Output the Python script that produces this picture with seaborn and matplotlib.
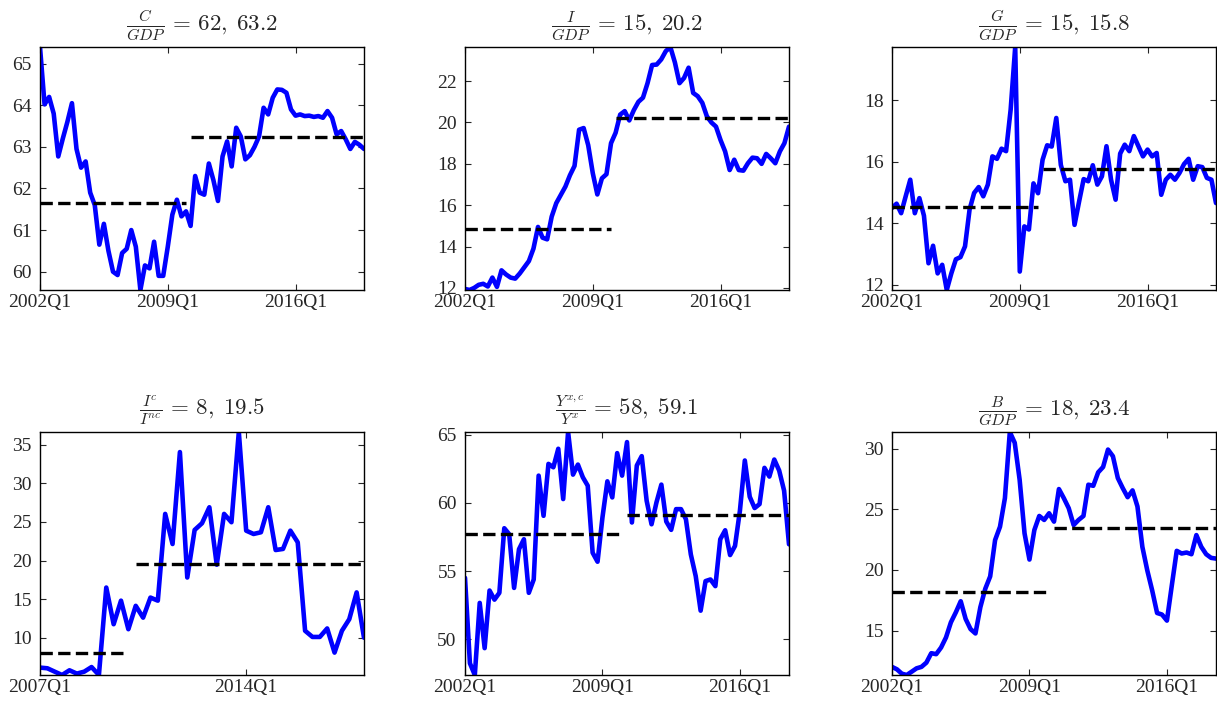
import pandas as pd
import numpy as np
import seaborn as sns
import matplotlib.pyplot as plt
from matplotlib.ticker import MultipleLocator

# quarterly ratios (%)
c_gdp = [65.4, 64.02, 64.2, 63.8, 62.77, 63.2, 63.6, 64.05, 62.95, 62.5,
         62.65, 61.9, 61.6, 60.65, 61.15, 60.5, 60.0, 59.92, 60.45, 60.55,
         61.0, 60.6, 59.56, 60.15, 60.08, 60.72, 59.9, 59.9, 60.6, 61.37,
         61.73, 61.33, 61.45, 61.1, 62.3, 61.9, 61.85, 62.6, 62.2, 61.7,
         62.77, 63.13, 62.53, 63.46, 63.25, 62.7, 62.8, 63.0, 63.25, 63.94,
         63.78, 64.18, 64.38, 64.37, 64.3, 63.9, 63.75, 63.78, 63.74, 63.75,
         63.72, 63.74, 63.7, 63.86, 63.7, 63.3, 63.38, 63.18, 62.95, 63.12,
         63.05, 62.95]
i_gdp = [11.95, 11.9, 12.0, 12.15, 12.2, 12.07, 12.5, 12.05, 12.85, 12.65,
         12.5, 12.45, 12.7, 13.0, 13.3, 13.9, 14.95, 14.43, 14.35, 15.45,
         16.1, 16.5, 16.9, 17.45, 17.9, 19.65, 19.73, 18.9, 17.55, 16.52,
         17.3, 17.5, 19.0, 19.5, 20.38, 20.55, 20.1, 20.6, 21.0, 21.2,
         21.9, 22.78, 22.8, 23.05, 23.45, 23.65, 22.9, 21.9, 22.15, 22.65,
         21.43, 21.27, 20.95, 20.3, 20.0, 19.8, 19.15, 18.6, 17.7, 18.2,
         17.7, 17.67, 18.03, 18.3, 18.27, 18.0, 18.48, 18.27, 18.03, 18.6,
         19.0, 19.8]
g_gdp = [14.5, 14.64, 14.33, 14.88, 15.42, 14.33, 14.82, 14.25, 12.7, 13.27,
         12.37, 12.65, 11.83, 12.37, 12.83, 12.9, 13.25, 14.45, 14.99, 15.18,
         14.88, 15.26, 16.18, 16.1, 16.43, 16.35, 17.7, 19.74, 12.43, 13.9,
         13.8, 15.3, 14.98, 16.07, 16.54, 16.5, 17.43, 15.9, 15.37, 15.42,
         13.95, 14.71, 15.44, 15.37, 15.89, 15.26, 15.53, 16.51, 15.42, 14.77,
         16.27, 16.56, 16.35, 16.84, 16.51, 16.18, 16.4, 16.18, 16.29, 14.93,
         15.42, 15.58, 15.42, 15.64, 15.93, 16.1, 15.42, 15.86, 15.83, 15.48,
         15.42, 14.66]
ic_inc = [6.13, 6.04, 5.6, 5.17, 5.78, 5.35, 5.6, 6.2, 5.17, 16.5,
          11.75, 14.8, 11.1, 14.13, 12.6, 15.2, 14.8, 26.04, 22.14, 34.05,
          17.8, 23.96, 24.83, 26.9, 19.46, 26.04, 24.96, 36.65, 23.87, 23.44,
          23.66, 26.9, 21.36, 21.5, 23.87, 22.36, 10.9, 10.1, 10.1, 11.2,
          8.07, 10.9, 12.4, 15.87, 10.0]
yxc_yx = [54.5, 48.23, 47.37, 52.66, 49.34, 53.57, 52.9, 53.4, 58.14, 57.7,
          53.76, 56.6, 57.33, 53.4, 54.38, 62.0, 59.05, 62.86, 62.61, 63.97,
          60.28, 65.2, 62.07, 62.81, 61.88, 61.26, 56.34, 55.68, 58.93, 61.58,
          60.4, 63.65, 62.0, 64.46, 58.56, 62.74, 63.43, 60.16, 58.43, 60.03,
          61.34, 58.63, 58.02, 59.54, 59.54, 58.8, 56.22, 54.62, 52.09, 54.26,
          54.38, 53.89, 57.33, 57.99, 56.17, 56.84, 59.42, 63.11, 60.45, 59.62,
          59.91, 62.57, 61.93, 63.18, 62.37, 60.9, 56.96]
b_gdp = [12.0, 11.8, 11.44, 11.33, 11.6, 11.88, 12.0, 12.35, 13.13, 13.05,
         13.6, 14.43, 15.68, 16.5, 17.42, 15.96, 15.12, 14.76, 16.93, 18.45,
         19.47, 22.47, 23.57, 25.93, 31.39, 30.5, 27.45, 23.02, 20.86, 23.3,
         24.46, 24.13, 24.68, 23.99, 26.68, 25.93, 25.1, 23.71, 24.13, 24.46,
         27.04, 26.95, 28.06, 28.5, 29.94, 29.39, 27.59, 26.76, 26.01, 26.57,
         25.24, 21.91, 19.97, 18.31, 16.45, 16.32, 15.82, 18.73, 21.58, 21.36,
         21.44, 21.3, 22.88, 21.91, 21.3, 21.0, 20.94]

series = [c_gdp, i_gdp, g_gdp, ic_inc, yxc_yx, b_gdp]
starts = ["2002Q1", "2002Q1", "2002Q1", "2007Q1", "2002Q1", "2002Q1"]
# period means before / after the break (2010Q1)
means_pre = [61.64, 14.85, 14.52, 8.07, 57.75, 18.2]
means_post = [63.23, 20.23, 15.77, 19.54, 59.1, 23.49]
titles = [r"$\frac{C}{GDP}\,=\,62,\;63.2$",
          r"$\frac{I}{GDP}\,=\,15,\;20.2$",
          r"$\frac{G}{GDP}\,=\,15,\;15.8$",
          r"$\frac{I^c}{I^{nc}}\,=\,8,\;19.5$",
          r"$\frac{Y^{x,c}}{Y^x}\,=\,58,\;59.1$",
          r"$\frac{B}{GDP}\,=\,18,\;23.4$"]
ystep = [1, 2, 2, 5, 5, 5]

sns.set_style("ticks")
plt.rcParams["font.family"] = ["Liberation Serif", "DejaVu Serif"]
plt.rcParams["mathtext.fontset"] = "cm"

fig = plt.figure(figsize=(12.17, 7.04), dpi=100)
lefts = [40, 465, 892]
tops = [47, 432]
W, H = 1217, 704

for k, vals in enumerate(series):
    row, col = divmod(k, 3)
    ax = fig.add_axes([lefts[col] / W, 1 - (tops[row] + 243) / H, 324 / W, 243 / H])
    q = pd.period_range(starts[k], periods=len(vals), freq="Q")
    df = pd.DataFrame({"t": np.arange(len(vals)), "v": vals})
    sns.lineplot(data=df, x="t", y="v", ax=ax, color="#0000ff", linewidth=3.3)

    brk = (2010 - int(starts[k][:4])) * 4
    pre = pd.DataFrame({"t": [0, brk], "v": [means_pre[k]] * 2})
    post = pd.DataFrame({"t": [brk + 1, len(vals) - 1], "v": [means_post[k]] * 2})
    sns.lineplot(data=pre, x="t", y="v", ax=ax, color="black", linewidth=2.4, linestyle="--")
    sns.lineplot(data=post, x="t", y="v", ax=ax, color="black", linewidth=2.4, linestyle="--")

    ax.set_xlim(0, len(vals) - 1)
    ax.set_ylim(min(vals), max(vals))
    tpos = [p for p in range(0, len(vals), 28)]
    ax.set_xticks(tpos)
    ax.set_xticklabels([str(q[p]) for p in tpos])
    ax.yaxis.set_major_locator(MultipleLocator(ystep[k]))
    ax.tick_params(direction="in", top=True, right=True, length=4, width=0.8,
                   labelsize=14)
    ax.tick_params(axis="y", pad=6)
    ax.tick_params(axis="x", pad=3)
    ax.set_xlabel("")
    ax.set_ylabel("")
    for s in ax.spines.values():
        s.set_linewidth(1.0)
        s.set_color("black")
    ax.set_title(titles[k], fontsize=16.5, pad=12)

plt.savefig("out.png", dpi=100)
